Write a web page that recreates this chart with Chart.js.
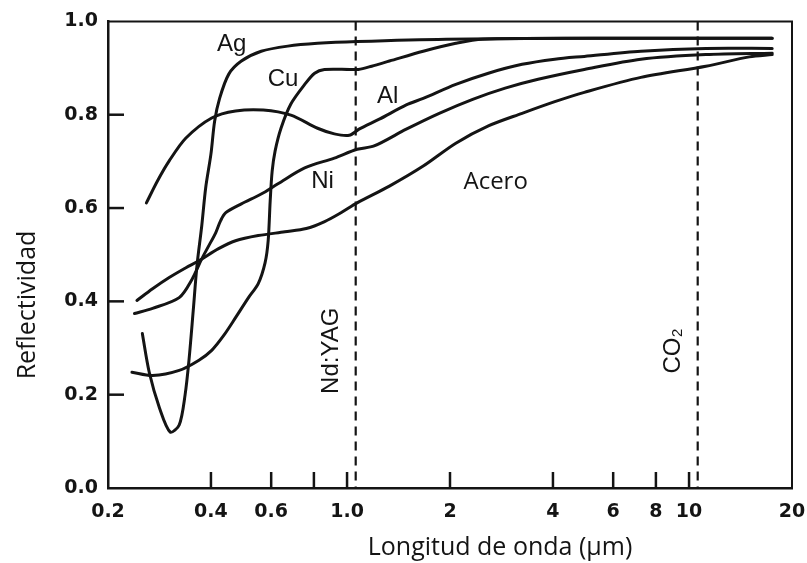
<!DOCTYPE html>
<html>
<head>
<meta charset="utf-8">
<script src="https://cdn.jsdelivr.net/npm/chart.js@4.4.1/dist/chart.umd.min.js"></script>
<style>
  html, body { margin: 0; padding: 0; background: #fff; }
</style>
</head>
<body>
<canvas id="chart" width="807" height="563"></canvas>
<script>
// longitud de onda (µm) y reflectividad
const agX = [0.252, 0.264, 0.283, 0.304, 0.323, 0.336, 0.345, 0.355, 0.364, 0.376, 0.386, 0.400, 0.410, 0.424, 0.451, 0.491, 0.561, 0.671, 0.820, 1.07, 1.95, 5.28, 17.5]
const agY = [0.331, 0.248, 0.171, 0.120, 0.135, 0.199, 0.274, 0.380, 0.476, 0.562, 0.643, 0.716, 0.786, 0.835, 0.887, 0.915, 0.936, 0.947, 0.953, 0.957, 0.962, 0.964, 0.964]

const cuX = [0.235, 0.270, 0.323, 0.369, 0.402, 0.436, 0.472, 0.515, 0.550, 0.576, 0.588, 0.596, 0.604, 0.616, 0.641, 0.685, 0.752, 0.804, 0.859, 1.02, 1.08, 1.18, 1.33, 1.67, 2.08, 2.49, 5.28, 17.5]
const cuY = [0.248, 0.241, 0.252, 0.274, 0.295, 0.327, 0.365, 0.408, 0.438, 0.483, 0.530, 0.615, 0.679, 0.722, 0.771, 0.823, 0.865, 0.889, 0.897, 0.897, 0.897, 0.904, 0.915, 0.936, 0.953, 0.962, 0.964, 0.964]

const alX = [0.259, 0.279, 0.302, 0.338, 0.402, 0.472, 0.569, 0.685, 0.820, 0.918, 1.015, 1.084, 1.247, 1.49, 1.67, 2.08, 2.59, 3.25, 4.05, 4.94, 7.23, 11.2, 17.5]
const alY = [0.611, 0.658, 0.701, 0.750, 0.793, 0.808, 0.810, 0.799, 0.771, 0.759, 0.756, 0.769, 0.791, 0.821, 0.835, 0.865, 0.889, 0.908, 0.919, 0.925, 0.936, 0.942, 0.942]

const niX = [0.239, 0.270, 0.323, 0.352, 0.376, 0.394, 0.413, 0.427, 0.442, 0.491, 0.561, 0.628, 0.752, 0.918, 1.07, 1.20, 1.49, 1.86, 2.33, 2.90, 3.62, 4.94, 7.23, 11.2, 17.5]
const niY = [0.374, 0.385, 0.408, 0.447, 0.491, 0.519, 0.547, 0.573, 0.590, 0.609, 0.630, 0.652, 0.686, 0.707, 0.726, 0.733, 0.769, 0.803, 0.833, 0.857, 0.876, 0.897, 0.919, 0.929, 0.932]

const aceroX = [0.243, 0.270, 0.302, 0.338, 0.369, 0.421, 0.472, 0.550, 0.658, 0.760, 0.860, 0.960, 1.07, 1.33, 1.67, 2.08, 2.59, 3.25, 4.05, 4.94, 7.23, 11.2, 15.0, 17.5]
const aceroY = [0.402, 0.427, 0.451, 0.472, 0.487, 0.513, 0.530, 0.541, 0.549, 0.556, 0.571, 0.590, 0.611, 0.647, 0.690, 0.739, 0.776, 0.803, 0.828, 0.848, 0.880, 0.904, 0.924, 0.929]

const etiquetasX = [0.2, 0.4, 0.6, 1, 2, 4, 6, 8, 10, 20]
const textosX = ['0.2', '0.4', '0.6', '1.0', '2', '4', '6', '8', '10', '20']
const marcasX = [0.4, 0.6, 0.8, 1, 2, 4, 6, 8, 10]
const marcasY = [0.2, 0.4, 0.6, 0.8]

const laserNombres = ['Nd:YAG', 'CO₂']
const laserX = [1.06, 10.6]

// nombre de cada curva y donde va el texto (en unidades de los ejes)
const nombres = ['Ag', 'Cu', 'Al', 'Ni', 'Acero']
const nombresX = [0.460, 0.650, 1.315, 0.848, 2.72]
const nombresY = [0.951, 0.876, 0.840, 0.658, 0.656]

const negro = '#141414'

function serie(xs, ys) {
    return xs.map((v, i) => ({x: v, y: ys[i]}))
}

function crearDataset(label, xs, ys) {
    return {
        label,
        data: serie(xs, ys),
        borderColor: negro,
        borderWidth: 3,
        pointRadius: 0,
        tension: 0.3,
        borderCapStyle: 'round',
        borderJoinStyle: 'round',
        fill: false
    }
}

const marcasPlugin = {
    id: 'marcas',
    afterDatasetsDraw(chart) {
        const {ctx, chartArea: a, scales: {x, y}} = chart
        ctx.save()
        ctx.strokeStyle = negro
        ctx.fillStyle = negro

        // marco arriba y derecha
        ctx.lineWidth = 2
        ctx.beginPath()
        ctx.moveTo(a.left, a.top)
        ctx.lineTo(a.right, a.top)
        ctx.lineTo(a.right, a.bottom)
        ctx.stroke()

        // marcas hacia adentro
        ctx.lineWidth = 2.5
        marcasX.forEach(v => {
            let px = x.getPixelForValue(v)
            ctx.beginPath()
            ctx.moveTo(px, a.bottom)
            ctx.lineTo(px, a.bottom - 16)
            ctx.stroke()
        })
        marcasY.forEach(v => {
            let py = y.getPixelForValue(v)
            ctx.beginPath()
            ctx.moveTo(a.left, py)
            ctx.lineTo(a.left + 16, py)
            ctx.stroke()
        })

        // lineas de los laseres
        ctx.setLineDash([9, 6])
        ctx.lineWidth = 2.2
        laserX.forEach(v => {
            let px = x.getPixelForValue(v)
            ctx.beginPath()
            ctx.moveTo(px, a.top)
            ctx.lineTo(px, a.bottom)
            ctx.stroke()
        })
        ctx.setLineDash([])

        ctx.textAlign = 'center'
        ctx.textBaseline = 'middle'

        // nombres de los laseres, girados
        ctx.font = '24px "Liberation Sans"'
        laserNombres.forEach((t, i) => {
            let px = x.getPixelForValue(laserX[i]) - 24
            let py = y.getPixelForValue(0.294)
            ctx.save()
            ctx.translate(px, py)
            ctx.rotate(-Math.PI / 2)
            ctx.fillText(t, 0, 0)
            ctx.restore()
        })

        // nombres de las curvas
        nombres.forEach((t, i) => {
            ctx.font = t === 'Acero' ? '24px "Open Sans"' : '24px "Liberation Sans"'
            ctx.fillText(t, x.getPixelForValue(nombresX[i]), y.getPixelForValue(nombresY[i]))
        })

        // titulos de los ejes
        ctx.font = '25px "Open Sans"'
        ctx.fillText('Longitud de onda (µm)', 500, 548)
        ctx.save()
        ctx.translate(28, 305)
        ctx.rotate(-Math.PI / 2)
        ctx.fillText('Reflectividad', 0, 0)
        ctx.restore()

        ctx.restore()
    }
}

const fuenteTicks = {family: 'DejaVu Sans', size: 19, weight: 'bold'}

const ctx = document.getElementById('chart').getContext('2d')
const grafica = new Chart(ctx, {
    type: 'line',
    data: {
        datasets: [
            crearDataset('Ag', agX, agY),
            crearDataset('Cu', cuX, cuY),
            crearDataset('Al', alX, alY),
            crearDataset('Ni', niX, niY),
            crearDataset('Acero', aceroX, aceroY)
        ]
    },
    options: {
        responsive: false,
        animation: false,
        layout: {padding: {top: 20, right: 15, bottom: 0, left: 0}},
        plugins: {legend: {display: false}, tooltip: {enabled: false}},
        scales: {
            x: {
                type: 'logarithmic',
                min: 0.2,
                max: 20,
                afterBuildTicks: s => { s.ticks = etiquetasX.map(v => ({value: v})) },
                afterFit: s => { s.height = 75; s.paddingLeft = 0; s.paddingRight = 0 },
                ticks: {
                    callback: (v, i) => textosX[i],
                    autoSkip: false,
                    maxRotation: 0,
                    padding: 13,
                    color: negro,
                    font: fuenteTicks
                },
                grid: {display: false, drawTicks: false},
                border: {display: true, color: negro, width: 2.5}
            },
            y: {
                min: 0,
                max: 1,
                afterFit: s => { s.width = 108 },
                ticks: {
                    stepSize: 0.2,
                    callback: v => v.toFixed(1),
                    padding: 10,
                    color: negro,
                    font: fuenteTicks
                },
                grid: {display: false, drawTicks: false},
                border: {display: true, color: negro, width: 2.5}
            }
        }
    },
    plugins: [marcasPlugin]
})
</script>
</body>
</html>
